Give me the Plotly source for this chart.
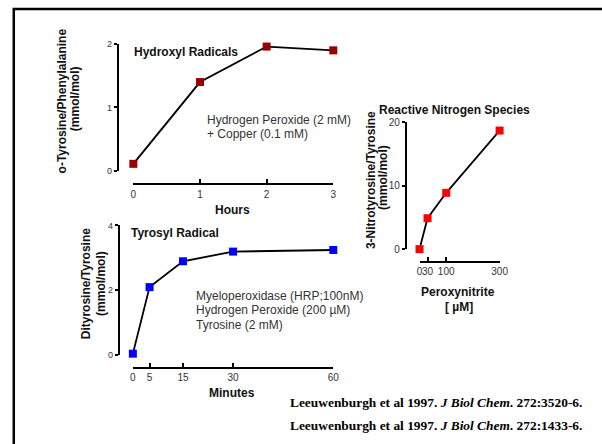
import plotly.graph_objects as go

# ---- data ----
hours = [0, 1, 2, 3]
o_tyr = [0.11, 1.40, 1.96, 1.90]

minutes = [0, 5, 15, 30, 60]
dityr = [0.03, 2.09, 2.89, 3.19, 3.24]

peroxy = [0, 30, 100, 300]
nitro = [0.0, 4.86, 8.86, 18.66]

hours_ticks = [0, 1, 2, 3]
min_ticks = [0, 5, 15, 30, 60]
per_ticks = [0, 30, 100, 300]

W, H = 602, 444
def px(x):
    return x / W
def py(y):
    return 1 - y / H

SANS = "Liberation Sans, Arial, sans-serif"
SERIF = "Liberation Serif, Times New Roman, serif"

fig = go.Figure()
fig.add_trace(go.Scatter(x=hours, y=o_tyr, xaxis="x", yaxis="y", mode="lines+markers",
                         line=dict(color="black", width=1.8),
                         marker=dict(symbol="square", size=8, color="#990000"),
                         cliponaxis=False, showlegend=False))
fig.add_trace(go.Scatter(x=minutes, y=dityr, xaxis="x2", yaxis="y2", mode="lines+markers",
                         line=dict(color="black", width=1.8),
                         marker=dict(symbol="square", size=8, color="#0000FF"),
                         cliponaxis=False, showlegend=False))
fig.add_trace(go.Scatter(x=peroxy, y=nitro, xaxis="x3", yaxis="y3", mode="lines+markers",
                         line=dict(color="black", width=1.8),
                         marker=dict(symbol="square", size=8, color="#FF0000"),
                         cliponaxis=False, showlegend=False))

def xax(domain, rng, pos, tickvals):
    return dict(domain=domain, range=rng, anchor="free", position=pos,
                showline=True, linecolor="black", linewidth=2.2,
                ticks="inside", ticklen=4, tickwidth=2, tickcolor="black",
                tickvals=tickvals, tickangle=0,
                tickfont=dict(family=SANS, size=10, color="#333333"),
                showgrid=False, zeroline=False)

def yax(domain, rng, pos, tickvals, fs=9):
    return dict(domain=domain, range=rng, anchor="free", position=pos,
                showline=True, linecolor="black", linewidth=1.8,
                ticks="outside", ticklen=3, tickwidth=1.5, tickcolor="black",
                tickvals=tickvals,
                tickfont=dict(family=SANS, size=fs, color="#333333"),
                showgrid=False, zeroline=False)

fig.update_layout(
    width=W, height=H, margin=dict(l=0, r=0, t=0, b=0),
    paper_bgcolor="white", plot_bgcolor="white",
    xaxis=xax([px(133), px(337)], [0, 3], py(183), hours_ticks),
    yaxis=yax([py(169), py(39)], [0, 2], px(117), [0, 1, 2]),
    xaxis2=xax([px(132.5), px(337)], [0, 60], py(371), min_ticks),
    yaxis2=yax([py(357.5), py(225)], [0, 4], px(118), [0, 2, 4]),
    xaxis3=xax([px(425), px(506.7)], [0, 300], py(262.7), per_ticks),
    yaxis3=yax([py(249.3), py(119)], [0, 20], px(411), [0, 10, 20], fs=10),
)

def ann(text, x, y, size=12, bold=False, angle=0, xanchor="center", color="black", family=SANS):
    t = "<b>" + text + "</b>" if bold else text
    fig.add_annotation(text=t, x=px(x), y=py(y), xref="paper", yref="paper",
                       showarrow=False, textangle=angle, xanchor=xanchor, yanchor="middle",
                       font=dict(family=family, size=size, color=color))

# panel 1
ann("Hydroxyl Radicals", 132, 47, bold=True, xanchor="left", color="#111")
ann("Hydrogen Peroxide (2 mM)", 206, 117, xanchor="left", color="#333")
ann("+ Copper (0.1 mM)", 206, 131, xanchor="left", color="#333")
ann("o-Tyrosine/Phenylalanine", 60, 97, bold=True, angle=-90, color="#111")
ann("(mmol/mol)", 73, 95, bold=True, angle=-90, color="#111")
ann("Hours", 234, 209, bold=True, color="#111")

# panel 2
ann("Tyrosyl Radical", 129, 233, bold=True, xanchor="left", color="#111")
ann("Myeloperoxidase (HRP;100nM)", 195, 297, xanchor="left", color="#333")
ann("Hydrogen Peroxide (200 µM)", 195, 312, xanchor="left", color="#333")
ann("Tyrosine (2 mM)", 195, 327, xanchor="left", color="#333")
ann("Dityrosine/Tyrosine", 85, 285, bold=True, angle=-90, color="#111")
ann("(mmol/mol)", 100, 285, bold=True, angle=-90, color="#111")
ann("Minutes", 234, 397, bold=True, color="#111")

# panel 3
ann("Reactive Nitrogen Species", 461, 107, bold=True, color="#111")
ann("3-Nitrotyrosine/Tyrosine", 375, 179, bold=True, angle=-90, color="#111")
ann("(mmol/mol)", 387, 176, bold=True, angle=-90, color="#111")
ann("Peroxynitrite", 464, 293, bold=True, color="#111")
ann("[ µM]", 465, 309, bold=True, color="#111")

# citations
ann("Leeuwenburgh et al 1997. <i>J Biol Chem</i>. 272:3520-6.", 291, 407, size=13.4, bold=True,
    xanchor="left", family=SERIF)
ann("Leeuwenburgh et al 1997. <i>J Biol Chem</i>. 272:1433-6.", 291, 430, size=13.4, bold=True,
    xanchor="left", family=SERIF)

# frame
fig.add_shape(type="rect", xref="paper", yref="paper",
              x0=px(11), x1=1.05, y0=-0.05, y1=py(3),
              line=dict(color="black", width=2.5), fillcolor="rgba(0,0,0,0)")

fig.write_html("out.html")
